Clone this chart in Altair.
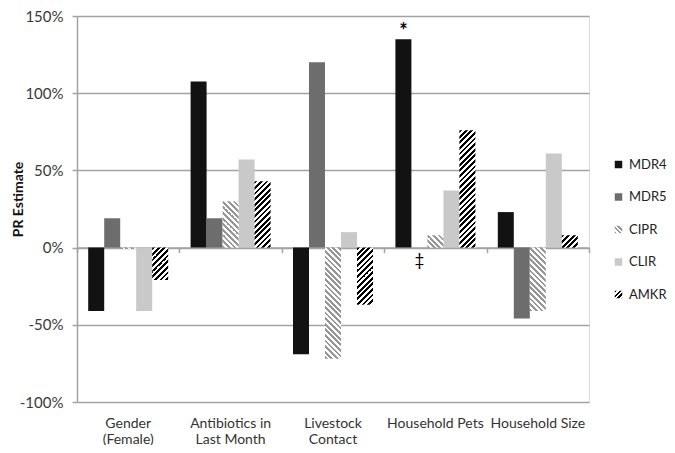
import altair as alt
import pandas as pd

categories = ["Gender (Female)", "Antibiotics in Last Month", "Livestock Contact",
              "Household Pets", "Household Size"]
series = ["MDR4", "MDR5", "CIPR", "CLIR", "AMKR"]
MDR4 = [-41, 107.5, -69, 135, 23]
MDR5 = [19, 19, 120, 0, -46]
CIPR = [-0.8, 30, -72, 8, -41]
CLIR = [-41, 57, 10, 37, 61]
AMKR = [-21, 43, -37, 76, 8]
values = {"MDR4": MDR4, "MDR5": MDR5, "CIPR": CIPR, "CLIR": CLIR, "AMKR": AMKR}

ann_category = ["Household Pets", "Household Pets"]
ann_series = ["MDR4", "MDR5"]
ann_value = [135, 0]
ann_label = ["*", "\u2021"]

rows = [{"category": c, "series": s, "value": values[s][i]}
        for s in series for i, c in enumerate(categories)]
df = pd.DataFrame(rows)
ann = pd.DataFrame({"category": ann_category, "series": ann_series,
                    "value": ann_value, "label": ann_label})

W, H = 512, 386
PAD_TOP = 8
PAD_LEFT = 69
YMIN, YMAX = -100, 150
FONT = "Lato"
GRID = "#a3a3a3"
solid_colors = {"MDR4": "#121212", "MDR5": "#6d6d6d", "CLIR": "#c9c9c9"}
hatch_style = {"CIPR": ("#979797", "back"), "AMKR": ("#000000", "fwd")}

bar_w = W / len(categories) / 6.4


def stripe_stops(L, color, period=5.6, frac=0.5):
    st = period / L
    stops = []
    k = 0
    while k * st < 1:
        a = k * st
        b = min(a + frac * st, 1.0)
        c = min(a + st, 1.0)
        stops += [{"offset": a, "color": color}, {"offset": b, "color": color},
                  {"offset": b, "color": "#ffffff"}, {"offset": c, "color": "#ffffff"}]
        k += 1
    return stops


def hatch(w, h, color, direction):
    h = max(h, 0.5)
    s = (1 / h + 1 / w) / (1 / h ** 2 + 1 / w ** 2)
    stops = stripe_stops(w + h, color)
    if direction == "fwd":
        return {"gradient": "linear", "x1": 0, "y1": 0, "x2": s / h, "y2": s / w, "stops": stops}
    return {"gradient": "linear", "x1": 0, "y1": 1, "x2": s / h, "y2": 1 - s / w, "stops": stops}


def legend_grad(color, direction):
    st = stripe_stops(16, color, period=5.0)
    parts = ",".join("{'offset': %.4f, 'color': '%s'}" % (d["offset"], d["color"]) for d in st)
    if direction == "fwd":
        return "{'gradient': 'linear', 'x1': 0, 'y1': 0, 'x2': 1, 'y2': 1, 'stops': [%s]}" % parts
    return "{'gradient': 'linear', 'x1': 0, 'y1': 1, 'x2': 1, 'y2': 0.0001, 'stops': [%s]}" % parts


label_expr = ("datum.label == 'Gender (Female)' ? ['Gender', '(Female)'] : "
              "datum.label == 'Antibiotics in Last Month' ? ['Antibiotics in', 'Last Month'] : "
              "datum.label == 'Livestock Contact' ? ['Livestock', 'Contact'] : datum.label")

x_main = alt.X("category:N", sort=categories,
               scale=alt.Scale(paddingInner=0, paddingOuter=0),
               axis=alt.Axis(title=None, domain=False, ticks=False, grid=False,
                             labelAngle=0, labelExpr=label_expr, labelFont=FONT,
                             labelFontSize=14, labelColor="#333333", labelPadding=14,
                             labelBaseline="top", labelLineHeight=16, labelLimit=200))
x_zero = alt.X("category:N", sort=categories,
               axis=alt.Axis(title=None, orient="bottom", offset=-(0 - YMIN) / (YMAX - YMIN) * H,
                             labels=False, grid=False, domain=True, domainColor=GRID,
                             domainWidth=1.5, ticks=True, tickBand="extent", tickSize=5,
                             tickColor=GRID, tickWidth=1.5))
xoff = alt.XOffset("series:N", sort=series, scale=alt.Scale(paddingOuter=0.7, paddingInner=0))
y_enc = alt.Y("value:Q", scale=alt.Scale(domain=[YMIN, YMAX], nice=False, zero=False),
              axis=alt.Axis(title="PR Estimate", values=[-100, -50, 0, 50, 100, 150],
                            labelExpr="datum.value + '%'", labelFont=FONT, labelFontSize=15,
                            labelColor="#3a3a3a", labelPadding=9,
                            titleFont=FONT, titleFontSize=14, titleFontWeight="bold",
                            titleColor="#111111", titleX=-59, titleY=183,
                            titleBaseline="middle", titleAlign="center", titleAngle=270,
                            domain=True, domainColor=GRID, domainWidth=1.5,
                            ticks=True, tickSize=5, tickColor=GRID, tickWidth=1.5,
                            grid=True, gridColor=GRID, gridWidth=1.5))

color_range = []
for s in series:
    if s in solid_colors:
        color_range.append(solid_colors[s])
    else:
        color_range.append(alt.ExprRef(legend_grad(*hatch_style[s])))

color_enc = alt.Color("series:N",
                      scale=alt.Scale(domain=series, range=color_range),
                      legend=alt.Legend(title=None, orient="none", legendX=535, legendY=142,
                                        symbolType="square", symbolSize=56, symbolStrokeWidth=0,
                                        labelFont=FONT, labelFontSize=13, labelColor="#222222",
                                        rowPadding=18.5, labelOffset=4))

base = alt.Chart(df)
layers = [base.transform_filter(alt.FieldOneOfPredicate(field="series", oneOf=list(solid_colors)))
          .mark_bar().encode(x=x_main, xOffset=xoff, y=y_enc, color=color_enc)]
px_per_unit = H / (YMAX - YMIN)
for s, (col, direc) in hatch_style.items():
    for i, c in enumerate(categories):
        v = values[s][i]
        if v == 0:
            continue
        g = hatch(bar_w, abs(v) * px_per_unit, col, direc)
        layers.append(base.transform_filter(
            (alt.datum.category == c) & (alt.datum.series == s))
            .mark_bar(fill=g).encode(x=x_main, xOffset=xoff, y=y_enc))
bars = alt.layer(*layers)

ann_base = alt.Chart(ann)
star = ann_base.transform_filter(alt.datum.label == "*").mark_text(
    font=FONT, fontSize=20, fontWeight="bold", color="#000000", baseline="middle", dy=-7
).encode(x=x_zero, xOffset=xoff, y=y_enc, text="label:N")
dagger = ann_base.transform_filter(alt.datum.label != "*").mark_text(
    font=FONT, fontSize=17, color="#000000", baseline="top", dy=5
).encode(x=x_zero, xOffset=xoff, y=y_enc, text="label:N")
annots = alt.layer(star, dagger)

chart = alt.layer(bars, annots).resolve_axis(x="independent").properties(
    width=W, height=H,
    autosize=alt.AutoSizeParams(type="none"),
    padding={"left": PAD_LEFT, "top": PAD_TOP, "right": 659 - PAD_LEFT - W,
             "bottom": 437 - PAD_TOP - H},
).configure_view(stroke=None).configure(background="white")

chart.save("out.html", embed_options={"renderer": "svg", "actions": False})
